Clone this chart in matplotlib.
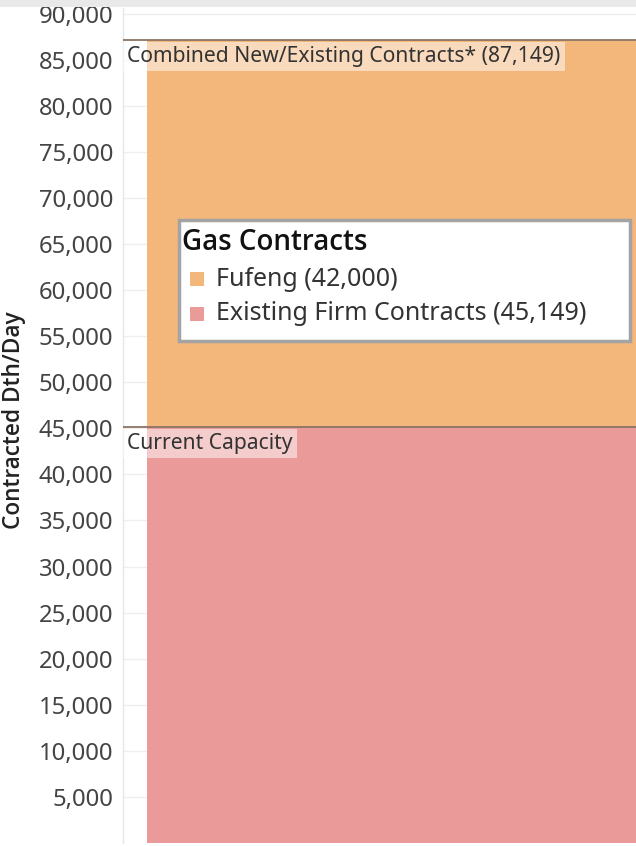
import matplotlib
matplotlib.use("Agg")
import matplotlib.pyplot as plt
from matplotlib.patches import Rectangle

# ---- data ----
series_names = ["Existing Firm Contracts", "Fufeng"]
series_values = [45149, 42000]
series_colors = ["#EB9A9A", "#F3B67B"]
legend_title = "Gas Contracts"
legend_labels = ["Fufeng (42,000)", "Existing Firm Contracts (45,149)"]
legend_colors = ["#F3B67B", "#EB9A9A"]
ref_values = [87149, 45149]
ref_labels = ["Combined New/Existing Contracts* (87,149)", "Current Capacity"]
yticks = list(range(5000, 90001, 5000))
ytick_labels = [f"{v:,}" for v in yticks]
y_label = "Contracted Dth/Day"

plt.rcParams['font.family'] = ['Noto Sans', 'DejaVu Sans']
BOLD_FAMILY = ['Open Sans', 'DejaVu Sans']

W, H = 636, 846
fig = plt.figure(figsize=(W / 100, H / 100), dpi=100)

def fx(px):
    return px / W

def fy(py):
    return 1 - py / H

ax_left, ax_right, ax_top, ax_bot = 123, 636, 8, 843
ax = fig.add_axes([fx(ax_left), fy(ax_bot), fx(ax_right - ax_left), (ax_bot - ax_top) / H])
ax.set_xlim(0, 1)
ax.set_ylim(0, 90600)

# bars (stacked)
bar_left = (147 - ax_left) / (ax_right - ax_left)
bar_w = 1.0 - bar_left + 0.01
bottom = 0
for name, val, col in zip(series_names, series_values, series_colors):
    ax.bar(bar_left, val, width=bar_w, bottom=bottom, align='edge', color=col,
           edgecolor='none', zorder=2)
    bottom += val

# gridlines
for v in yticks:
    ax.axhline(v, color='#EFEFEF', lw=1, zorder=1)

# reference lines and labels
for v, lab in zip(ref_values, ref_labels):
    ax.axhline(v, color='#8A7565', lw=1.3, zorder=3)
    ax.annotate(lab, xy=(0, v), xycoords='data', xytext=(3, -4.5),
                textcoords='offset points', ha='left', va='top',
                fontsize=15.2, color='#333333', zorder=4,
                bbox=dict(boxstyle='square,pad=0.2', fc='white', ec='none', alpha=0.5))

ax.set_yticks(yticks)
ax.set_yticklabels(ytick_labels, fontsize=17.2, color='#444444')
ax.tick_params(axis='y', length=0, pad=7)
ax.set_xticks([])
for s in ['top', 'right', 'bottom']:
    ax.spines[s].set_visible(False)
ax.spines['left'].set_color('#E6E6E6')
ax.spines['left'].set_linewidth(1)

fig.text(fx(14), fy(420), y_label, rotation=90, ha='center', va='center',
         fontsize=16.3, fontweight=600, family=BOLD_FAMILY, color='#222222')

# top gray band
fig.patches.append(Rectangle((0, fy(7)), 1, 7 / H, transform=fig.transFigure,
                             facecolor='#E9E9E9', edgecolor='none', zorder=10))

# legend box (manual)
lx0, ly0, lx1, ly1 = 179, 220, 630, 341
fig.patches.append(Rectangle((fx(lx0), fy(ly1)), fx(lx1 - lx0), (ly1 - ly0) / H,
                             transform=fig.transFigure, facecolor='white',
                             edgecolor='#A3A3A3', linewidth=2.5, zorder=20))
fig.text(fx(182), fy(243), legend_title, ha='left', va='center', fontsize=20,
         fontweight=600, family=BOLD_FAMILY, color='#111111', zorder=21)
for i, (lab, col) in enumerate(zip(legend_labels, legend_colors)):
    cy = 279 + i * 35
    fig.patches.append(Rectangle((fx(190), fy(cy + 7)), fx(14), 14 / H,
                                 transform=fig.transFigure, facecolor=col,
                                 edgecolor='none', zorder=21))
    fig.text(fx(216), fy(cy), lab, ha='left', va='center', fontsize=18,
             color='#333333', zorder=21)

fig.savefig("out.png", dpi=100)
